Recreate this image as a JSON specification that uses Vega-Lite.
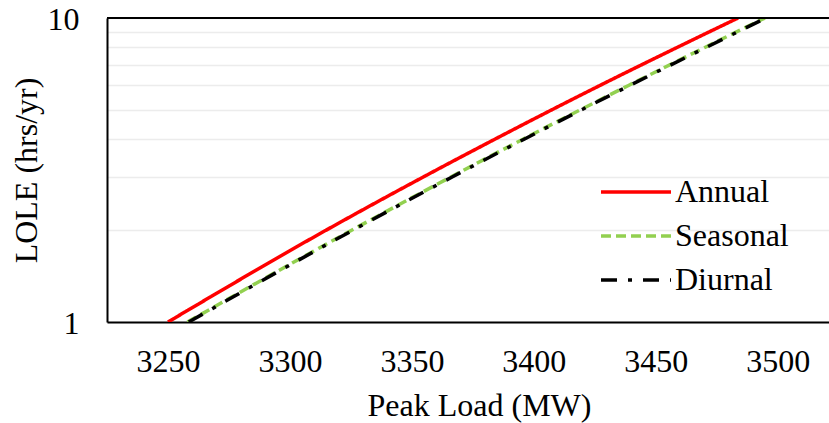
{
  "$schema": "https://vega.github.io/schema/vega-lite/v6.json",
  "autosize": {"type": "none"},
  "width": 722,
  "height": 304,
  "padding": {"left": 107, "top": 18, "right": 0, "bottom": 101},
  "background": "white",
  "config": {
    "view": {"stroke": null},
    "font": "Liberation Serif",
    "axis": {"labelFont": "Liberation Serif", "titleFont": "Liberation Serif", "labelColor": "black", "titleColor": "black", "titleFontWeight": "normal", "labelOverlap": false}
  },
  "data": {"values": [
    {"series": "Annual", "load": 3250, "lole": 1},
    {"series": "Annual", "load": 3314.6, "lole": 2},
    {"series": "Annual", "load": 3354.7, "lole": 3},
    {"series": "Annual", "load": 3384.2, "lole": 4},
    {"series": "Annual", "load": 3407.6, "lole": 5},
    {"series": "Annual", "load": 3427.1, "lole": 6},
    {"series": "Annual", "load": 3458.7, "lole": 8},
    {"series": "Annual", "load": 3483.7, "lole": 10},
    {"series": "Seasonal", "load": 3258, "lole": 1},
    {"series": "Seasonal", "load": 3325.1, "lole": 2},
    {"series": "Seasonal", "load": 3366, "lole": 3},
    {"series": "Seasonal", "load": 3395.7, "lole": 4},
    {"series": "Seasonal", "load": 3419.3, "lole": 5},
    {"series": "Seasonal", "load": 3438.8, "lole": 6},
    {"series": "Seasonal", "load": 3470.1, "lole": 8},
    {"series": "Seasonal", "load": 3494.7, "lole": 10},
    {"series": "Diurnal", "load": 3258.5, "lole": 1},
    {"series": "Diurnal", "load": 3325.6, "lole": 2},
    {"series": "Diurnal", "load": 3366.5, "lole": 3},
    {"series": "Diurnal", "load": 3396.2, "lole": 4},
    {"series": "Diurnal", "load": 3419.8, "lole": 5},
    {"series": "Diurnal", "load": 3439.3, "lole": 6},
    {"series": "Diurnal", "load": 3470.6, "lole": 8},
    {"series": "Diurnal", "load": 3495.2, "lole": 10}
  ]},
  "layer": [
    {
      "mark": {"type": "line", "strokeWidth": 3.5, "clip": true, "interpolate": "monotone"},
      "encoding": {
        "x": {"field": "load", "type": "quantitative",
          "scale": {"domain": [3225, 3521], "nice": false, "zero": false},
          "axis": {"values": [3250, 3300, 3350, 3400, 3450, 3500], "format": "d", "grid": false, "ticks": false,
            "labelPadding": 49, "labelBaseline": "alphabetic", "labelFontSize": 32,
            "domainColor": "black", "domainWidth": 2,
            "title": "Peak Load (MW)", "titleFontSize": 32, "titleX": 372, "titleY": 93, "titleBaseline": "alphabetic"}},
        "y": {"field": "lole", "type": "quantitative",
          "scale": {"type": "log", "domain": [1, 10], "nice": false},
          "axis": {"values": [1, 2, 3, 4, 5, 6, 7, 8, 9, 10], "format": "d",
            "labelExpr": "datum.value == 1 || datum.value == 10 ? datum.label : ''",
            "grid": true, "gridColor": "#ececec", "gridWidth": 1.5, "ticks": false,
            "labelPadding": 28, "labelBaseline": "alphabetic", "labelOffset": 11.5, "labelFontSize": 32,
            "domainColor": "black", "domainWidth": 2,
            "title": "LOLE (hrs/yr)", "titleFontSize": 32, "titleX": -71, "titleY": 152, "titleBaseline": "alphabetic"}},
        "color": {"field": "series", "type": "nominal",
          "scale": {"domain": ["Annual", "Seasonal", "Diurnal"], "range": ["#ff0000", "#92d050", "#000000"]},
          "legend": {"title": null, "orient": "none", "legendX": 492, "legendY": 152, "symbolType": "stroke",
            "symbolSize": 4900, "symbolStrokeWidth": 3.5, "labelFontSize": 32, "labelFont": "Liberation Serif",
            "labelColor": "black", "labelOffset": 2, "rowPadding": 0, "clipHeight": 44, "padding": 0}},
        "strokeDash": {"field": "series", "type": "nominal",
          "scale": {"domain": ["Annual", "Seasonal", "Diurnal"], "range": [[1, 0], [10, 5], [16, 11, 4, 11]]},
          "legend": {"title": null, "orient": "none", "legendX": 492, "legendY": 152, "symbolType": "stroke",
            "symbolSize": 4900, "symbolStrokeWidth": 3.5, "labelFontSize": 32, "labelFont": "Liberation Serif",
            "labelColor": "black", "labelOffset": 2, "rowPadding": 0, "clipHeight": 44, "padding": 0}},
        "order": {"field": "lole", "type": "quantitative"}
      }
    },
    {
      "mark": {"type": "rule", "color": "black", "strokeWidth": 2},
      "encoding": {"y": {"datum": 10}}
    }
  ]
}
